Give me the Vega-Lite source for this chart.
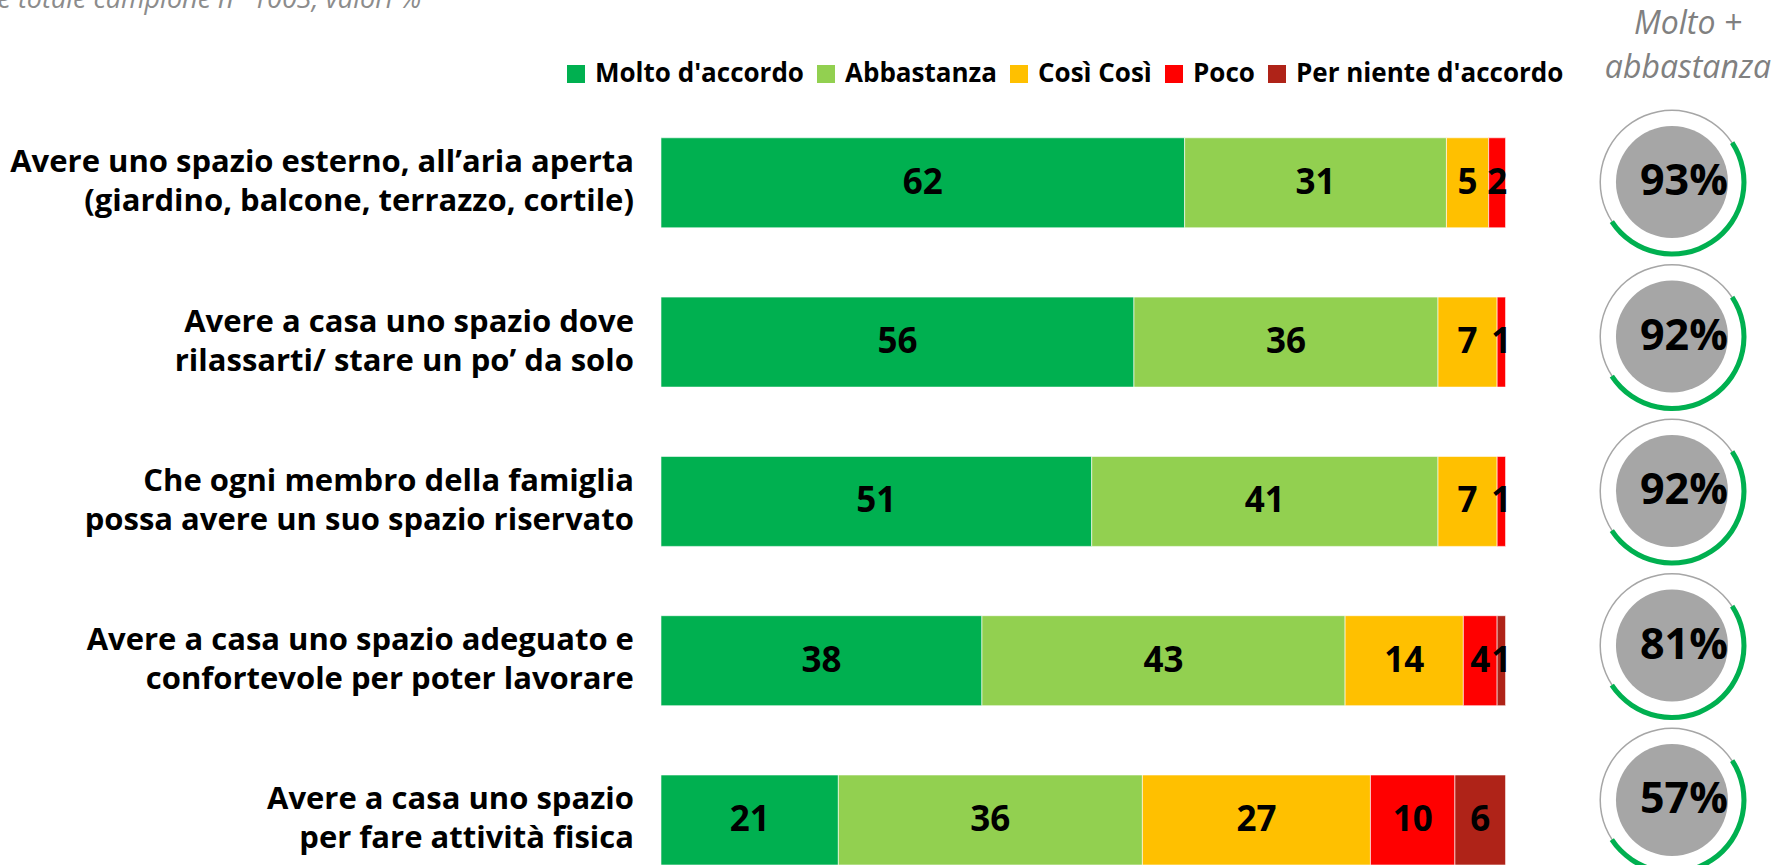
{
  "$schema": "https://vega.github.io/schema/vega-lite/v6.json",
  "width": 1775,
  "height": 865,
  "autosize": {"type": "none"},
  "padding": 0,
  "background": "white",
  "config": {"view": {"stroke": null}, "font": "Open Sans", "text": {"font": "Open Sans"}},
  "datasets": {
    "rows": [
      {"item": "esterno", "lines": ["Avere uno spazio esterno, all’aria aperta", "(giardino, balcone, terrazzo, cortile)"], "tot": "93%"},
      {"item": "relax", "lines": ["Avere a casa uno spazio dove", "rilassarti/  stare un po’ da solo"], "tot": "92%"},
      {"item": "riservato", "lines": ["Che ogni membro della famiglia", "possa avere un suo spazio riservato"], "tot": "92%"},
      {"item": "lavoro", "lines": ["Avere a casa uno spazio adeguato e", "confortevole per poter lavorare"], "tot": "81%"},
      {"item": "fisica", "lines": ["Avere a casa uno spazio", "per fare attività fisica"], "tot": "57%"}
    ],
    "bars": [
      {"item": "esterno", "cat": "Molto d'accordo", "k": 1, "value": 62},
      {"item": "esterno", "cat": "Abbastanza", "k": 2, "value": 31},
      {"item": "esterno", "cat": "Così Così", "k": 3, "value": 5},
      {"item": "esterno", "cat": "Poco", "k": 4, "value": 2},
      {"item": "relax", "cat": "Molto d'accordo", "k": 1, "value": 56},
      {"item": "relax", "cat": "Abbastanza", "k": 2, "value": 36},
      {"item": "relax", "cat": "Così Così", "k": 3, "value": 7},
      {"item": "relax", "cat": "Poco", "k": 4, "value": 1},
      {"item": "riservato", "cat": "Molto d'accordo", "k": 1, "value": 51},
      {"item": "riservato", "cat": "Abbastanza", "k": 2, "value": 41},
      {"item": "riservato", "cat": "Così Così", "k": 3, "value": 7},
      {"item": "riservato", "cat": "Poco", "k": 4, "value": 1},
      {"item": "lavoro", "cat": "Molto d'accordo", "k": 1, "value": 38},
      {"item": "lavoro", "cat": "Abbastanza", "k": 2, "value": 43},
      {"item": "lavoro", "cat": "Così Così", "k": 3, "value": 14},
      {"item": "lavoro", "cat": "Poco", "k": 4, "value": 4},
      {"item": "lavoro", "cat": "Per niente d'accordo", "k": 5, "value": 1},
      {"item": "fisica", "cat": "Molto d'accordo", "k": 1, "value": 21},
      {"item": "fisica", "cat": "Abbastanza", "k": 2, "value": 36},
      {"item": "fisica", "cat": "Così Così", "k": 3, "value": 27},
      {"item": "fisica", "cat": "Poco", "k": 4, "value": 10},
      {"item": "fisica", "cat": "Per niente d'accordo", "k": 5, "value": 6}
    ],
    "notes": [
      {"t": "Base totale campione n° 1003, valori %"}
    ],
    "head": [
      {"t": ["Molto +", "abbastanza"]}
    ]
  },
  "resolve": {"scale": {"y": "independent"}},
  "layer": [
    {
      "layer": [
        {
          "data": {"name": "bars"},
          "mark": {"type": "bar", "stroke": "white", "strokeWidth": 1, "strokeOpacity": 0.6},
          "encoding": {
            "x": {"field": "value", "type": "quantitative", "stack": "zero", "scale": {"domain": [-78.26, 131.9], "nice": false, "zero": false}, "axis": null},
            "y": {"field": "item", "type": "nominal", "scale": {"type": "band", "domain": ["esterno", "relax", "riservato", "lavoro", "fisica"], "paddingInner": 0.435, "paddingOuter": 0.4325, "align": 1}, "axis": null},
            "color": {
              "field": "cat", "type": "nominal",
              "scale": {"domain": ["Molto d'accordo", "Abbastanza", "Così Così", "Poco", "Per niente d'accordo"], "range": ["#00B050", "#92D050", "#FFC000", "#FF0000", "#AF2318"]},
              "legend": {"orient": "none", "legendX": 563, "legendY": 61, "direction": "horizontal", "title": null, "symbolType": "square", "symbolSize": 324, "symbolStrokeWidth": 0, "labelFontSize": 26, "labelFont": "Open Sans", "labelFontWeight": "bold", "labelColor": "black", "columnPadding": 9, "labelOffset": 6, "labelLimit": 400}
            },
            "order": {"field": "k", "type": "quantitative"}
          }
        },
        {
          "data": {"name": "bars"},
          "transform": [
            {"stack": "value", "groupby": ["item"], "sort": [{"field": "k", "order": "ascending"}], "as": ["x0", "x1"]},
            {"calculate": "(datum.x0 + datum.x1) / 2", "as": "mid"}
          ],
          "mark": {"type": "text", "fontSize": 35, "fontWeight": "bold", "color": "black", "baseline": "middle", "align": "center", "font": "Open Sans"},
          "encoding": {
            "x": {"field": "mid", "type": "quantitative", "scale": {"domain": [-78.26, 131.9], "nice": false, "zero": false}, "axis": null},
            "y": {"field": "item", "type": "nominal", "scale": {"type": "band", "domain": ["esterno", "relax", "riservato", "lavoro", "fisica"], "paddingInner": 0.435, "paddingOuter": 0.4325, "align": 1}, "axis": null},
            "text": {"field": "value", "type": "quantitative"}
          }
        },
        {
          "data": {"name": "rows"},
          "mark": {"type": "text", "fontSize": 31, "fontWeight": "bold", "color": "black", "align": "right", "baseline": "middle", "lineHeight": 39, "dy": -19.5, "font": "Open Sans"},
          "encoding": {
            "x": {"datum": -3.2, "type": "quantitative", "scale": {"domain": [-78.26, 131.9], "nice": false, "zero": false}, "axis": null},
            "y": {"field": "item", "type": "nominal", "scale": {"type": "band", "domain": ["esterno", "relax", "riservato", "lavoro", "fisica"], "paddingInner": 0.435, "paddingOuter": 0.4325, "align": 1}, "axis": null},
            "text": {"field": "lines"}
          }
        },
        {
          "data": {"name": "notes"},
          "mark": {"type": "text", "fontSize": 27, "fontStyle": "italic", "color": "#8C8C8C", "align": "right", "baseline": "alphabetic", "dy": -175, "font": "Open Sans"},
          "encoding": {
            "x": {"datum": -28.4, "type": "quantitative", "scale": {"domain": [-78.26, 131.9], "nice": false, "zero": false}, "axis": null},
            "y": {"datum": "esterno", "type": "nominal", "scale": {"type": "band", "domain": ["esterno", "relax", "riservato", "lavoro", "fisica"], "paddingInner": 0.435, "paddingOuter": 0.4325, "align": 1}, "axis": null},
            "text": {"field": "t"}
          }
        }
      ]
    },
    {
      "layer": [
        {
          "data": {"name": "rows"},
          "mark": {"type": "arc", "radius": 72.5, "radius2": 71, "theta": 0, "theta2": 6.2832, "fill": "#A6A6A6"},
          "encoding": {
            "x": {"datum": 119.7, "type": "quantitative", "scale": {"domain": [-78.26, 131.9], "nice": false, "zero": false}, "axis": null},
            "y": {"field": "item", "type": "nominal", "scale": {"type": "point", "domain": ["esterno", "relax", "riservato", "lavoro", "fisica"], "padding": 0.7994, "align": 0.737}, "axis": null}
          }
        },
        {
          "data": {"name": "rows"},
          "mark": {"type": "arc", "radius": 74.5, "radius2": 69.5, "theta": 0.99, "theta2": 4.13, "fill": "#00B050"},
          "encoding": {
            "x": {"datum": 119.7, "type": "quantitative", "scale": {"domain": [-78.26, 131.9], "nice": false, "zero": false}, "axis": null},
            "y": {"field": "item", "type": "nominal", "scale": {"type": "point", "domain": ["esterno", "relax", "riservato", "lavoro", "fisica"], "padding": 0.7994, "align": 0.737}, "axis": null}
          }
        },
        {
          "data": {"name": "rows"},
          "mark": {"type": "arc", "radius": 56, "theta": 0, "theta2": 6.2832, "fill": "#A6A6A6"},
          "encoding": {
            "x": {"datum": 119.7, "type": "quantitative", "scale": {"domain": [-78.26, 131.9], "nice": false, "zero": false}, "axis": null},
            "y": {"field": "item", "type": "nominal", "scale": {"type": "point", "domain": ["esterno", "relax", "riservato", "lavoro", "fisica"], "padding": 0.7994, "align": 0.737}, "axis": null}
          }
        },
        {
          "data": {"name": "rows"},
          "mark": {"type": "text", "fontSize": 43, "fontWeight": "bold", "color": "black", "align": "center", "baseline": "middle", "dx": 12, "dy": 0, "font": "Open Sans"},
          "encoding": {
            "x": {"datum": 119.7, "type": "quantitative", "scale": {"domain": [-78.26, 131.9], "nice": false, "zero": false}, "axis": null},
            "y": {"field": "item", "type": "nominal", "scale": {"type": "point", "domain": ["esterno", "relax", "riservato", "lavoro", "fisica"], "padding": 0.7994, "align": 0.737}, "axis": null},
            "text": {"field": "tot"}
          }
        },
        {
          "data": {"name": "head"},
          "mark": {"type": "text", "fontSize": 32, "fontStyle": "italic", "color": "#808080", "align": "center", "baseline": "alphabetic", "lineHeight": 44, "dy": -148, "font": "Open Sans"},
          "encoding": {
            "x": {"datum": 121.6, "type": "quantitative", "scale": {"domain": [-78.26, 131.9], "nice": false, "zero": false}, "axis": null},
            "y": {"datum": "esterno", "type": "nominal", "scale": {"type": "point", "domain": ["esterno", "relax", "riservato", "lavoro", "fisica"], "padding": 0.7994, "align": 0.737}, "axis": null},
            "text": {"field": "t"}
          }
        }
      ]
    }
  ]
}
